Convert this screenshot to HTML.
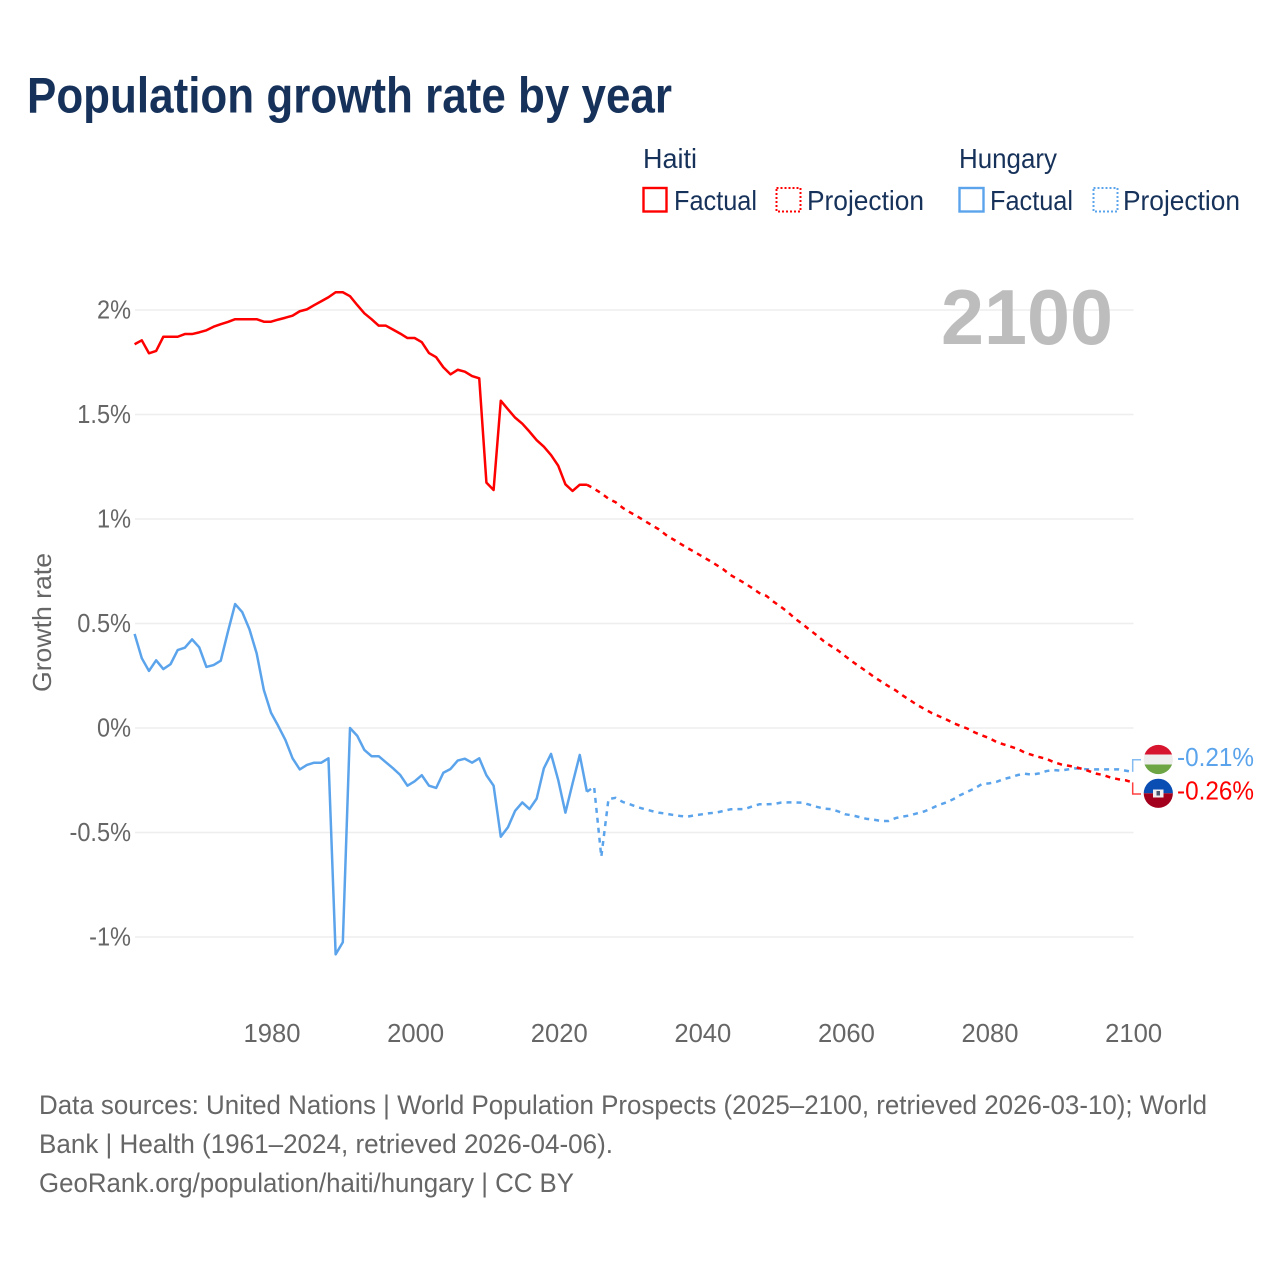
<!DOCTYPE html>
<html lang="en">
<head>
<meta charset="utf-8">
<title>Population growth rate by year</title>
<style>
html,body{margin:0;padding:0;background:#fff;}
svg{display:block;font-family:"Liberation Sans",sans-serif;}
</style>
</head>
<body>
<svg id="chart" xmlns="http://www.w3.org/2000/svg" width="1280" height="1280" viewBox="0 0 1280 1280">
  <defs>
    <clipPath id="hu-clip"><circle cx="1158.3" cy="759.5" r="14.6"/></clipPath>
    <clipPath id="ht-clip"><circle cx="1158.3" cy="793.3" r="14.6"/></clipPath>
  </defs>
  <rect width="1280" height="1280" fill="#ffffff"/>
  <text x="27" y="112.7" font-size="50" font-weight="700" fill="#17325a" textLength="645" lengthAdjust="spacingAndGlyphs">Population growth rate by year</text>

  <g font-size="27.5" fill="#17325a">
    <text x="643" y="168" textLength="54" lengthAdjust="spacingAndGlyphs">Haiti</text>
    <text x="959" y="168" textLength="98" lengthAdjust="spacingAndGlyphs">Hungary</text>
    <rect x="643.5" y="188" width="23" height="23.5" fill="none" stroke="#ff0000" stroke-width="2.4"/>
    <text x="674" y="210" textLength="83" lengthAdjust="spacingAndGlyphs">Factual</text>
    <rect x="776.5" y="188" width="24" height="23.5" fill="none" stroke="#ff0000" stroke-width="2" stroke-dasharray="2 2"/>
    <text x="807" y="210" textLength="117" lengthAdjust="spacingAndGlyphs">Projection</text>
    <rect x="959.5" y="188" width="24" height="23.5" fill="none" stroke="#5ba4ec" stroke-width="2.4"/>
    <text x="990" y="210" textLength="83" lengthAdjust="spacingAndGlyphs">Factual</text>
    <rect x="1093.5" y="188" width="24" height="23.5" fill="none" stroke="#5ba4ec" stroke-width="2" stroke-dasharray="2 2"/>
    <text x="1123" y="210" textLength="117" lengthAdjust="spacingAndGlyphs">Projection</text>
  </g>

  <g id="grid"></g>
  <text x="941" y="344" font-size="78" font-weight="700" fill="#bdbdbd" textLength="172" lengthAdjust="spacingAndGlyphs">2100</text>
  <g id="yticks" font-size="25.6" fill="#666666" text-anchor="end"></g>
  <g id="xticks" font-size="25.6" fill="#666666" text-anchor="middle"></g>
  <text transform="translate(51 692) rotate(-90)" font-size="25.6" fill="#666666" textLength="139" lengthAdjust="spacingAndGlyphs">Growth rate</text>
  <g id="series" fill="none" stroke-width="2.5" stroke-linejoin="round"></g>

  <path id="hu-connector" fill="none" stroke="#5ba4ec" stroke-opacity="0.75" stroke-width="1.5"/>
  <path id="ht-connector" fill="none" stroke="#ff0000" stroke-opacity="0.75" stroke-width="1.5"/>

  <g clip-path="url(#hu-clip)">
    <rect x="1143" y="744" width="31" height="10.5" fill="#d8152f"/>
    <rect x="1143" y="754.5" width="31" height="10" fill="#eeeeee"/>
    <rect x="1143" y="764.5" width="31" height="11" fill="#6da544"/>
  </g>
  <g clip-path="url(#ht-clip)">
    <rect x="1143" y="778" width="31" height="15.3" fill="#0a4db3"/>
    <rect x="1143" y="793.3" width="31" height="16" fill="#a2001d"/>
    <rect x="1153" y="789.5" width="10.5" height="8" fill="#f0f0f0"/>
    <rect x="1156.5" y="791" width="3.5" height="4.5" fill="#4a5a70"/>
  </g>
  <text id="hu-value" x="1177" y="766" font-size="25.6" fill="#5ba4ec" textLength="77" lengthAdjust="spacingAndGlyphs"></text>
  <text id="ht-value" x="1177" y="799.5" font-size="25.6" fill="#ff0000" textLength="77" lengthAdjust="spacingAndGlyphs"></text>

  <g font-size="27" fill="#666666">
    <text x="39" y="1114" textLength="1168" lengthAdjust="spacingAndGlyphs">Data sources: United Nations | World Population Prospects (2025–2100, retrieved 2026-03-10); World</text>
    <text x="39" y="1153" textLength="574" lengthAdjust="spacingAndGlyphs">Bank | Health (1961–2024, retrieved 2026-04-06).</text>
    <text x="39" y="1192" textLength="535" lengthAdjust="spacingAndGlyphs">GeoRank.org/population/haiti/hungary | CC BY</text>
  </g>
</svg>
<script>
const factualStartYear = 1961;
const projectionStartYear = 2024;
const yTickValues = [2, 1.5, 1, 0.5, 0, -0.5, -1];
const yTickLabels = ["2%", "1.5%", "1%", "0.5%", "0%", "-0.5%", "-1%"];
const xTickValues = [1980, 2000, 2020, 2040, 2060, 2080, 2100];
const xTickLabels = ["1980", "2000", "2020", "2040", "2060", "2080", "2100"];
const hungaryEndLabel = "-0.21%";
const haitiEndLabel = "-0.26%";

const haitiFactual = [1.836,1.855,1.793,1.804,1.872,1.872,1.872,1.885,1.885,1.893,1.903,1.920,1.932,1.943,1.956,1.956,1.956,1.956,1.944,1.944,1.954,1.963,1.973,1.994,2.003,2.023,2.042,2.061,2.085,2.085,2.066,2.024,1.984,1.956,1.925,1.925,1.906,1.887,1.866,1.866,1.846,1.794,1.774,1.726,1.692,1.714,1.705,1.684,1.673,1.174,1.139,1.566,1.525,1.485,1.456,1.418,1.377,1.346,1.306,1.255,1.166,1.134,1.164,1.164];

const haitiProjection = [1.164,1.145,1.123,1.097,1.080,1.053,1.032,1.013,0.992,0.971,0.951,0.924,0.903,0.882,0.861,0.842,0.822,0.802,0.781,0.759,0.732,0.712,0.692,0.670,0.646,0.632,0.604,0.580,0.554,0.523,0.498,0.470,0.444,0.415,0.392,0.370,0.343,0.317,0.293,0.269,0.244,0.222,0.200,0.180,0.155,0.133,0.110,0.091,0.072,0.057,0.042,0.024,0.010,-0.003,-0.021,-0.035,-0.048,-0.066,-0.078,-0.089,-0.100,-0.118,-0.129,-0.139,-0.148,-0.163,-0.174,-0.180,-0.187,-0.196,-0.207,-0.219,-0.226,-0.238,-0.245,-0.250,-0.26];

const hungaryFactual = [0.450,0.334,0.273,0.324,0.282,0.305,0.373,0.384,0.424,0.386,0.292,0.301,0.322,0.461,0.593,0.554,0.472,0.357,0.182,0.073,0.010,-0.057,-0.145,-0.198,-0.177,-0.166,-0.166,-0.145,-1.083,-1.025,0,-0.037,-0.105,-0.135,-0.135,-0.164,-0.193,-0.225,-0.276,-0.255,-0.226,-0.276,-0.287,-0.214,-0.196,-0.156,-0.147,-0.166,-0.145,-0.226,-0.276,-0.520,-0.475,-0.396,-0.356,-0.388,-0.338,-0.193,-0.124,-0.249,-0.405,-0.265,-0.129,-0.305];

const hungaryProjection = [-0.305,-0.281,-0.616,-0.340,-0.334,-0.354,-0.365,-0.378,-0.388,-0.397,-0.405,-0.410,-0.416,-0.421,-0.424,-0.418,-0.413,-0.408,-0.405,-0.397,-0.389,-0.388,-0.388,-0.375,-0.365,-0.365,-0.364,-0.357,-0.356,-0.356,-0.357,-0.367,-0.377,-0.386,-0.388,-0.399,-0.413,-0.418,-0.427,-0.435,-0.439,-0.445,-0.445,-0.431,-0.424,-0.418,-0.408,-0.399,-0.384,-0.368,-0.357,-0.341,-0.321,-0.305,-0.289,-0.268,-0.265,-0.258,-0.245,-0.236,-0.225,-0.219,-0.223,-0.217,-0.206,-0.201,-0.204,-0.198,-0.193,-0.196,-0.198,-0.198,-0.198,-0.198,-0.198,-0.204,-0.21];

const SVG_NS = "http://www.w3.org/2000/svg";
function xScale(year) { return 134.6 + (year - 1961) * 7.18; }
function yScale(value) { return 728 - value * 209; }
function linePath(values, startYear) {
  return values.map(function (v, i) {
    return (i ? "L" : "M") + xScale(startYear + i).toFixed(2) + " " + yScale(v).toFixed(2);
  }).join("");
}

const grid = document.getElementById("grid");
const yTicks = document.getElementById("yticks");
const xTicks = document.getElementById("xticks");
const seriesGroup = document.getElementById("series");

yTickValues.forEach(function (v, i) {
  const line = document.createElementNS(SVG_NS, "line");
  
  
  line.setAttribute("x1", 135);
  line.setAttribute("x2", 1133.5);
  line.setAttribute("y1", yScale(v));
  line.setAttribute("y2", yScale(v));
  line.setAttribute("stroke", "#eeeeee");
  line.setAttribute("stroke-width", "1.6");
  grid.appendChild(line);

  const label = document.createElementNS(SVG_NS, "text");
  
  
  label.setAttribute("x", 131);
  label.setAttribute("y", yScale(v) + 8.5);
  label.textContent = yTickLabels[i];
  yTicks.appendChild(label);
  label.setAttribute("textLength", (label.getComputedTextLength() * 0.92).toFixed(1));
  label.setAttribute("lengthAdjust", "spacingAndGlyphs");
});

xTickValues.forEach(function (year, i) {
  const label = document.createElementNS(SVG_NS, "text");
  
  
  label.setAttribute("x", xScale(year) + 1);
  label.setAttribute("y", 1042);
  label.textContent = xTickLabels[i];
  xTicks.appendChild(label);
});

const factualHungary = document.createElementNS(SVG_NS, "path");


factualHungary.setAttribute("d", linePath(hungaryFactual, factualStartYear));
factualHungary.setAttribute("stroke", "#5ba4ec");
seriesGroup.appendChild(factualHungary);

const projectedHungary = document.createElementNS(SVG_NS, "path");


projectedHungary.setAttribute("d", linePath(hungaryProjection, projectionStartYear));
projectedHungary.setAttribute("stroke", "#5ba4ec");
projectedHungary.setAttribute("stroke-dasharray", "5 5");
seriesGroup.appendChild(projectedHungary);

const factualHaiti = document.createElementNS(SVG_NS, "path");


factualHaiti.setAttribute("d", linePath(haitiFactual, factualStartYear));
factualHaiti.setAttribute("stroke", "#ff0000");
seriesGroup.appendChild(factualHaiti);

const projectedHaiti = document.createElementNS(SVG_NS, "path");


projectedHaiti.setAttribute("d", linePath(haitiProjection, projectionStartYear));
projectedHaiti.setAttribute("stroke", "#ff0000");
projectedHaiti.setAttribute("stroke-dasharray", "5 5");
seriesGroup.appendChild(projectedHaiti);

const huEndY = yScale(hungaryProjection[hungaryProjection.length - 1]);
const htEndY = yScale(haitiProjection[haitiProjection.length - 1]);
document.getElementById("hu-connector").setAttribute("d", "M1132.7 " + huEndY + "V759.7H1141");
document.getElementById("ht-connector").setAttribute("d", "M1132.7 " + htEndY + "V794H1141");
document.getElementById("hu-value").textContent = hungaryEndLabel;
document.getElementById("ht-value").textContent = haitiEndLabel;
</script>
</body>
</html>
